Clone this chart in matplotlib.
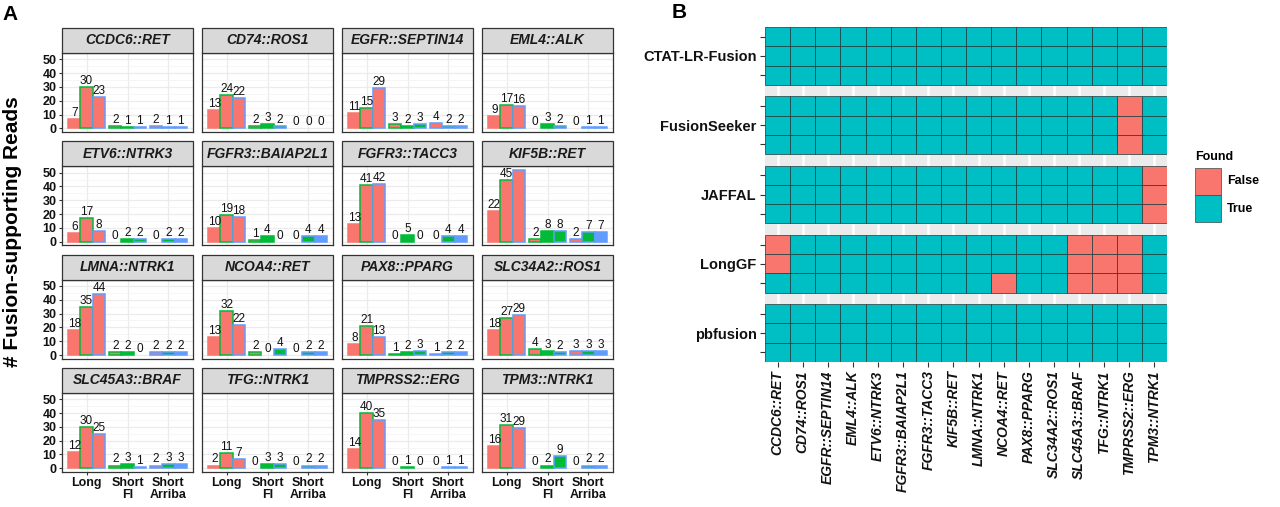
import matplotlib

matplotlib.use("Agg")
import matplotlib.pyplot as plt
from matplotlib.patches import Rectangle

W, H = 1280, 507
plt.rcParams["font.family"] = ["Liberation Sans", "DejaVu Sans"]

RED, GREEN, BLUE, TEAL = "#F8766D", "#00BA38", "#619CFF", "#00BFC4"
COLS = [RED, GREEN, BLUE]
BORDER = "#333333"

FUSIONS = ["CCDC6::RET", "CD74::ROS1", "EGFR::SEPTIN14", "EML4::ALK",
           "ETV6::NTRK3", "FGFR3::BAIAP2L1", "FGFR3::TACC3", "KIF5B::RET",
           "LMNA::NTRK1", "NCOA4::RET", "PAX8::PPARG", "SLC34A2::ROS1",
           "SLC45A3::BRAF", "TFG::NTRK1", "TMPRSS2::ERG", "TPM3::NTRK1"]
GROUPS = ["Long", "Short\nFI", "Short\nArriba"]

# supporting reads, three bars per group, in FUSIONS order
LONG = [[7, 30, 23], [13, 24, 22], [11, 15, 29], [9, 17, 16],
        [6, 17, 8], [10, 19, 18], [13, 41, 42], [22, 45, 52],
        [18, 35, 44], [13, 32, 22], [8, 21, 13], [18, 27, 29],
        [12, 30, 25], [2, 11, 7], [14, 40, 35], [16, 31, 29]]
SHORT_FI = [[2, 1, 1], [2, 3, 2], [3, 2, 3], [0, 3, 2],
            [0, 2, 2], [1, 4, 0], [0, 5, 0], [2, 8, 8],
            [2, 2, 0], [2, 0, 4], [1, 2, 3], [4, 3, 2],
            [2, 3, 1], [0, 3, 3], [0, 1, 0], [0, 2, 9]]
SHORT_ARRIBA = [[2, 1, 1], [0, 0, 0], [4, 2, 2], [0, 1, 1],
                [0, 2, 2], [0, 4, 4], [0, 4, 4], [2, 7, 7],
                [2, 2, 2], [0, 2, 2], [1, 2, 2], [3, 3, 3],
                [2, 3, 3], [0, 2, 2], [0, 1, 1], [0, 2, 2]]

TOOLS = ["CTAT-LR-Fusion", "FusionSeeker", "JAFFAL", "LongGF", "pbfusion"]
# 1 = found, 0 = missed; three replicate rows per tool, columns in FUSIONS order
FOUND_CTAT = ["1111111111111111", "1111111111111111", "1111111111111111"]
FOUND_FSEEKER = ["1111111111111101", "1111111111111101", "1111111111111101"]
FOUND_JAFFAL = ["1111111111111110", "1111111111111110", "1111111111111110"]
FOUND_LONGGF = ["0111111111110001", "0111111111110001", "1111111110110001"]
FOUND_PBFUSION = ["1111111111111111", "1111111111111111", "1111111111111111"]
FOUND = [FOUND_CTAT, FOUND_FSEEKER, FOUND_JAFFAL, FOUND_LONGGF, FOUND_PBFUSION]


def px_axes(fig, left, top, width, height):
    return fig.add_axes([left / W, 1 - (top + height) / H, width / W, height / H])


def fx(x):
    return x / W


def fy(y):
    return 1 - y / H


fig = plt.figure(figsize=(W / 100, H / 100), dpi=100, facecolor="white")

# ---- panel A: faceted bars
PW, PH, STRIP = 131, 79, 25
for i, name in enumerate(FUSIONS):
    r, c = divmod(i, 4)
    ax = px_axes(fig, 62 + 140 * c, 53 + 113.3 * r, PW, PH)
    vals = [LONG[i], SHORT_FI[i], SHORT_ARRIBA[i]]
    for g in range(3):
        for b in range(3):
            x = g + 1 + (b - 1) * 0.3
            v = vals[g][b]
            if v > 0:
                ax.bar(x, v, width=0.3, color=COLS[min(g, b)],
                       edgecolor=COLS[max(g, b)], lw=1.1, zorder=3)
            ax.annotate(str(v), (x, v), xytext=(0, 2.2), textcoords="offset points",
                        ha="center", va="baseline", fontsize=8.5, color="#111111",
                        zorder=4)
    ax.set_xlim(0.4, 3.6)
    ax.set_ylim(-2.6, 54.6)
    ax.set_yticks(range(0, 51, 10))
    ax.set_yticks(range(5, 50, 10), minor=True)
    ax.set_xticks([1, 2, 3])
    ax.set_xticklabels(GROUPS, fontweight="bold", fontsize=9, linespacing=1.0)
    ax.set_yticklabels([str(t) for t in range(0, 51, 10)], fontweight="bold", fontsize=9)
    ax.grid(which="major", color="#EBEBEB", lw=0.9, zorder=0)
    ax.grid(which="minor", axis="y", color="#F3F3F3", lw=0.5, zorder=0)
    ax.set_axisbelow(True)
    for sp in ax.spines.values():
        sp.set_color(BORDER)
        sp.set_linewidth(0.9)
    ax.tick_params(which="minor", length=0)
    ax.tick_params(which="major", length=2.5, width=0.8, color=BORDER, pad=1.5,
                   labelcolor="#111111")
    if c != 0:
        ax.tick_params(left=False, labelleft=False)
    if r != 3:
        ax.tick_params(bottom=False, labelbottom=False)
    ax.add_patch(Rectangle((0, 1), 1, STRIP / PH, transform=ax.transAxes,
                           clip_on=False, facecolor="#D9D9D9", edgecolor=BORDER,
                           lw=0.9, zorder=5))
    ax.text(0.5, 1 + STRIP / PH / 2, name, transform=ax.transAxes, ha="center",
            va="center", fontsize=10, fontweight="bold", fontstyle="italic",
            color="#1A1A1A", zorder=6)

fig.text(fx(12.5), fy(232), "# Fusion-supporting Reads", rotation=90, ha="center",
         va="center", fontsize=15, fontweight="bold")
fig.text(fx(10), fy(15), "A", ha="center", va="center", fontsize=15, fontweight="bold")

# ---- panel B: found / missed heatmap
GAP = 0.6
axh = px_axes(fig, 765, 27, 402, 335)
axh.set_facecolor("#EBEBEB")
n = len(FUSIONS)
for j in range(n):
    axh.axvline(j + 0.5, color="white", lw=1.8, zorder=1)
yt, yl = [], []
for k, tool in enumerate(TOOLS):
    for r, row in enumerate(FOUND[k]):
        y0 = k * (3 + GAP) + r
        for j, flag in enumerate(row):
            axh.add_patch(Rectangle((j, y0), 1, 1, facecolor=TEAL if flag == "1" else RED,
                                    edgecolor="#1E3A3A", lw=0.5, zorder=2))
        yt.append(y0 + 0.5)
        yl.append(tool if r == 1 else "")
axh.set_xlim(0, n)
axh.set_ylim(5 * 3 + 4 * GAP, 0)
axh.set_yticks(yt)
axh.set_yticklabels(yl, fontsize=10.5, fontweight="bold")
axh.set_xticks([j + 0.5 for j in range(n)])
axh.set_xticklabels(FUSIONS, rotation=90, fontsize=10, fontweight="bold",
                    fontstyle="italic")
axh.tick_params(length=3.5, width=0.8, color=BORDER, pad=2.5, labelcolor="#111111")
for sp in axh.spines.values():
    sp.set_visible(False)

fig.text(fx(679), fy(13), "B", ha="center", va="center", fontsize=15, fontweight="bold")

# legend
fig.text(fx(1195), fy(157), "Found", ha="left", va="center", fontsize=9,
         fontweight="bold")
for lab, col, top in [("False", RED, 168), ("True", TEAL, 195)]:
    fig.patches.append(Rectangle((fx(1195), fy(top + 27)), 26 / W, 27 / H,
                                 transform=fig.transFigure, facecolor=col,
                                 edgecolor="#3A4A4A", lw=0.5))
    fig.text(fx(1227), fy(top + 13.5), lab, ha="left", va="center", fontsize=9,
             fontweight="bold")

fig.savefig("out.png", dpi=100, facecolor="white")
